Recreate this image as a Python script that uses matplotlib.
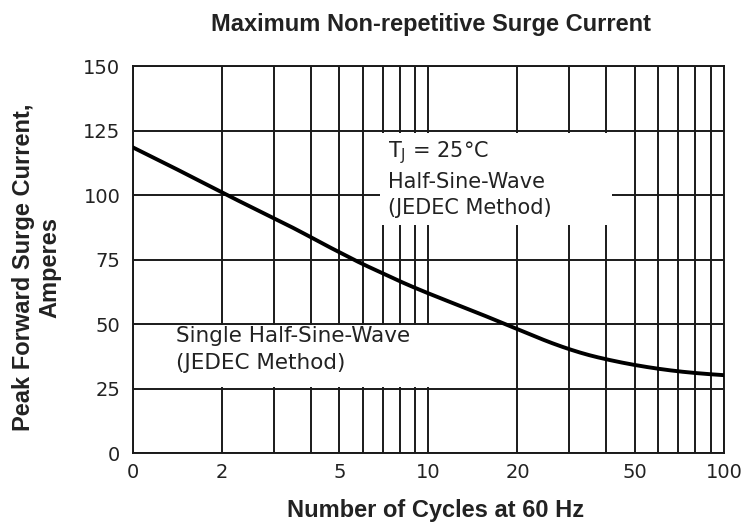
import numpy as np
import matplotlib.pyplot as plt
from matplotlib.patches import Rectangle
from matplotlib.ticker import FixedLocator, FixedFormatter, NullLocator

plt.rcParams['font.family'] = ['Liberation Sans', 'DejaVu Sans']

# curva
ciclos = [1, 1.5, 2, 3, 4, 5, 6, 7, 8, 10, 15, 20, 30, 40, 50, 60, 70, 80, 100]
corrente = [118.5, 108.5, 101, 91, 84, 77.3, 73.5, 69.5, 66.5, 61.8, 54, 48,
            39.8, 36.2, 34.0, 32.6, 31.6, 30.9, 30.2]

x_ticks = [1, 2, 5, 10, 20, 50, 100]
x_rotulos = ['0', '2', '5', '10', '20', '50', '100']
x_grade = [1, 2, 3, 4, 5, 6, 7, 8, 9, 10, 20, 30, 40, 50, 60, 70, 80, 90, 100]
y_ticks = [0, 25, 50, 75, 100, 125, 150]

# curva suave (media movel em escala log)
lx = np.linspace(0, 2, 400)
ys = np.interp(lx, np.log10(ciclos), corrente)
k = 20
ys_s = np.convolve(np.pad(ys, k, mode='reflect', reflect_type='odd'),
                   np.ones(2*k+1)/(2*k+1), mode='same')[k:-k]
xs = 10**lx

fig = plt.figure(figsize=(7.55, 5.25), dpi=100)
ax = fig.add_axes([0.176, 0.137, 0.783, 0.737])
ax.set_xscale('log')
ax.set_xlim(1, 100)
ax.set_ylim(0, 150)

for xv in x_grade:
    ax.axvline(xv, color='#1a1a1a', lw=1.4, zorder=1)
for yv in y_ticks:
    ax.axhline(yv, color='#1a1a1a', lw=1.4, zorder=1)

# caixas brancas atras dos textos
ax.add_patch(Rectangle((0.418, 0.590), 0.392, 0.238, transform=ax.transAxes,
                       facecolor='white', edgecolor='none', zorder=2))
ax.add_patch(Rectangle((0.003, 0.172), 0.51, 0.158, transform=ax.transAxes,
                       facecolor='white', edgecolor='none', zorder=2))

ax.plot(xs, ys_s, color='black', lw=2.8, zorder=3)

ax.text(0.431, 0.812, 'T$_\\mathregular{J}$ = 25°C\nHalf-Sine-Wave\n(JEDEC Method)',
        transform=ax.transAxes, fontsize=15, va='top', ha='left',
        linespacing=1.4, color='#222222', zorder=4, family='DejaVu Sans')
ax.text(0.073, 0.328, 'Single Half-Sine-Wave\n(JEDEC Method)',
        transform=ax.transAxes, fontsize=15.5, va='top', ha='left',
        linespacing=1.4, color='#222222', zorder=4, family='DejaVu Sans')

ax.xaxis.set_major_locator(FixedLocator(x_ticks))
ax.xaxis.set_major_formatter(FixedFormatter(x_rotulos))
ax.xaxis.set_minor_locator(NullLocator())
ax.set_yticks(y_ticks)
ax.tick_params(length=0, labelsize=14, colors='#222222')
ax.tick_params(axis='y', pad=9)
ax.tick_params(axis='x', pad=7)
for lb in ax.get_xticklabels() + ax.get_yticklabels():
    lb.set_family('DejaVu Sans')
for s in ax.spines.values():
    s.set_linewidth(1.4)
    s.set_color('#1a1a1a')

fig.text(0.571, 0.954, 'Maximum Non-repetitive Surge Current', ha='center', va='center',
         fontsize=17, fontweight='bold', color='#222222')
fig.text(0.577, 0.027, 'Number of Cycles at 60 Hz', ha='center', va='center',
         fontsize=17, fontweight='bold', color='#222222')
fig.text(0.049, 0.491, 'Peak Forward Surge Current,\nAmperes', ha='center', va='center',
         rotation=90, fontsize=17, fontweight='bold', color='#222222', linespacing=1.2)

plt.savefig('out.png', dpi=100)
plt.close()
